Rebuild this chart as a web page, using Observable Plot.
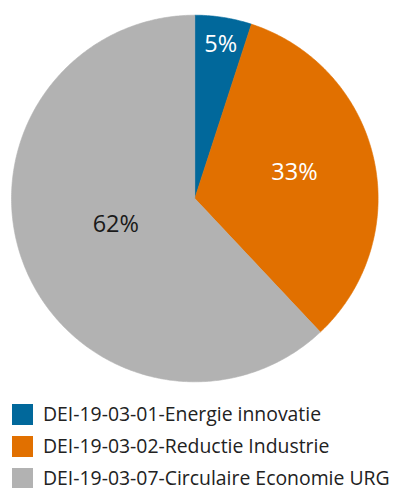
<!DOCTYPE html>
<html>
<head>
<meta charset="utf-8">
<script src="https://cdn.jsdelivr.net/npm/d3@7"></script>
<script src="https://cdn.jsdelivr.net/npm/@observablehq/plot@0.6"></script>
<style>
  html, body { margin: 0; padding: 0; background: #fff; }
  body { width: 393px; height: 488px; overflow: hidden; font-family: "Open Sans", sans-serif; }
  #legend { padding-top: 8px; }
  .row { display: flex; align-items: center; height: 32px; }
  .sw { width: 21px; height: 21px; margin-left: 12px; margin-right: 10px; flex: none; }
  .lab { font-size: 19.4px; color: #222; white-space: nowrap; line-height: 1; }
</style>
</head>
<body>
<div id="chart"></div>
<div id="legend"></div>
<script>
const categories = [
  "DEI-19-03-01-Energie innovatie",
  "DEI-19-03-02-Reductie Industrie",
  "DEI-19-03-07-Circulaire Economie URG"
];
const shares = [5, 33, 62];
const shareLabels = ["5%", "33%", "62%"];
const palette = ["#01689B", "#E17000", "#B2B2B2"];
const labelInk = ["#ffffff", "#ffffff", "#1a1a1a"];
const labelRadius = [0.85, 0.562, 0.454];
const labelTurnDeg = [0.6, -2, 3.3];

const W = 393, H = 390, cx = 194.3, cy = 198, r = 183.3;

const arcs = d3.pie().sort(null).value(d => d)(shares);

const wedgePts = [];
arcs.forEach((a, i) => {
  const key = categories[i];
  wedgePts.push({key, color: palette[i], x: 0, y: 0});
  const n = Math.max(2, Math.ceil((a.endAngle - a.startAngle) / 0.01));
  for (let k = 0; k <= n; k++) {
    const t = a.startAngle + (a.endAngle - a.startAngle) * k / n;
    wedgePts.push({key, color: palette[i], x: Math.sin(t), y: -Math.cos(t)});
  }
  wedgePts.push({key, color: palette[i], x: 0, y: 0});
});

const labelData = arcs.map((a, i) => {
  const m = (a.startAngle + a.endAngle) / 2 + labelTurnDeg[i] * Math.PI / 180;
  return {text: shareLabels[i], ink: labelInk[i], x: labelRadius[i] * Math.sin(m), y: -labelRadius[i] * Math.cos(m)};
});

const chart = Plot.plot({
  width: W,
  height: H,
  margin: 0,
  style: {fontFamily: "'Open Sans', sans-serif", background: "#fff"},
  x: {domain: [-cx / r, (W - cx) / r], range: [0, W], axis: null},
  y: {domain: [-cy / r, (H - cy) / r], range: [0, H], axis: null},
  color: {type: "identity"},
  marks: [
    Plot.line(wedgePts, {x: "x", y: "y", z: "key", fill: "color", stroke: "color", strokeWidth: 0.6}),
    Plot.text(labelData, {x: "x", y: "y", text: "text", fill: "ink", fontSize: 23.5})
  ]
});
document.getElementById("chart").appendChild(chart);

const legend = d3.select("#legend");
categories.forEach((c, i) => {
  const row = legend.append("div").attr("class", "row");
  row.append("div").attr("class", "sw").style("background", palette[i]);
  row.append("div").attr("class", "lab").text(c);
});
</script>
</body>
</html>
